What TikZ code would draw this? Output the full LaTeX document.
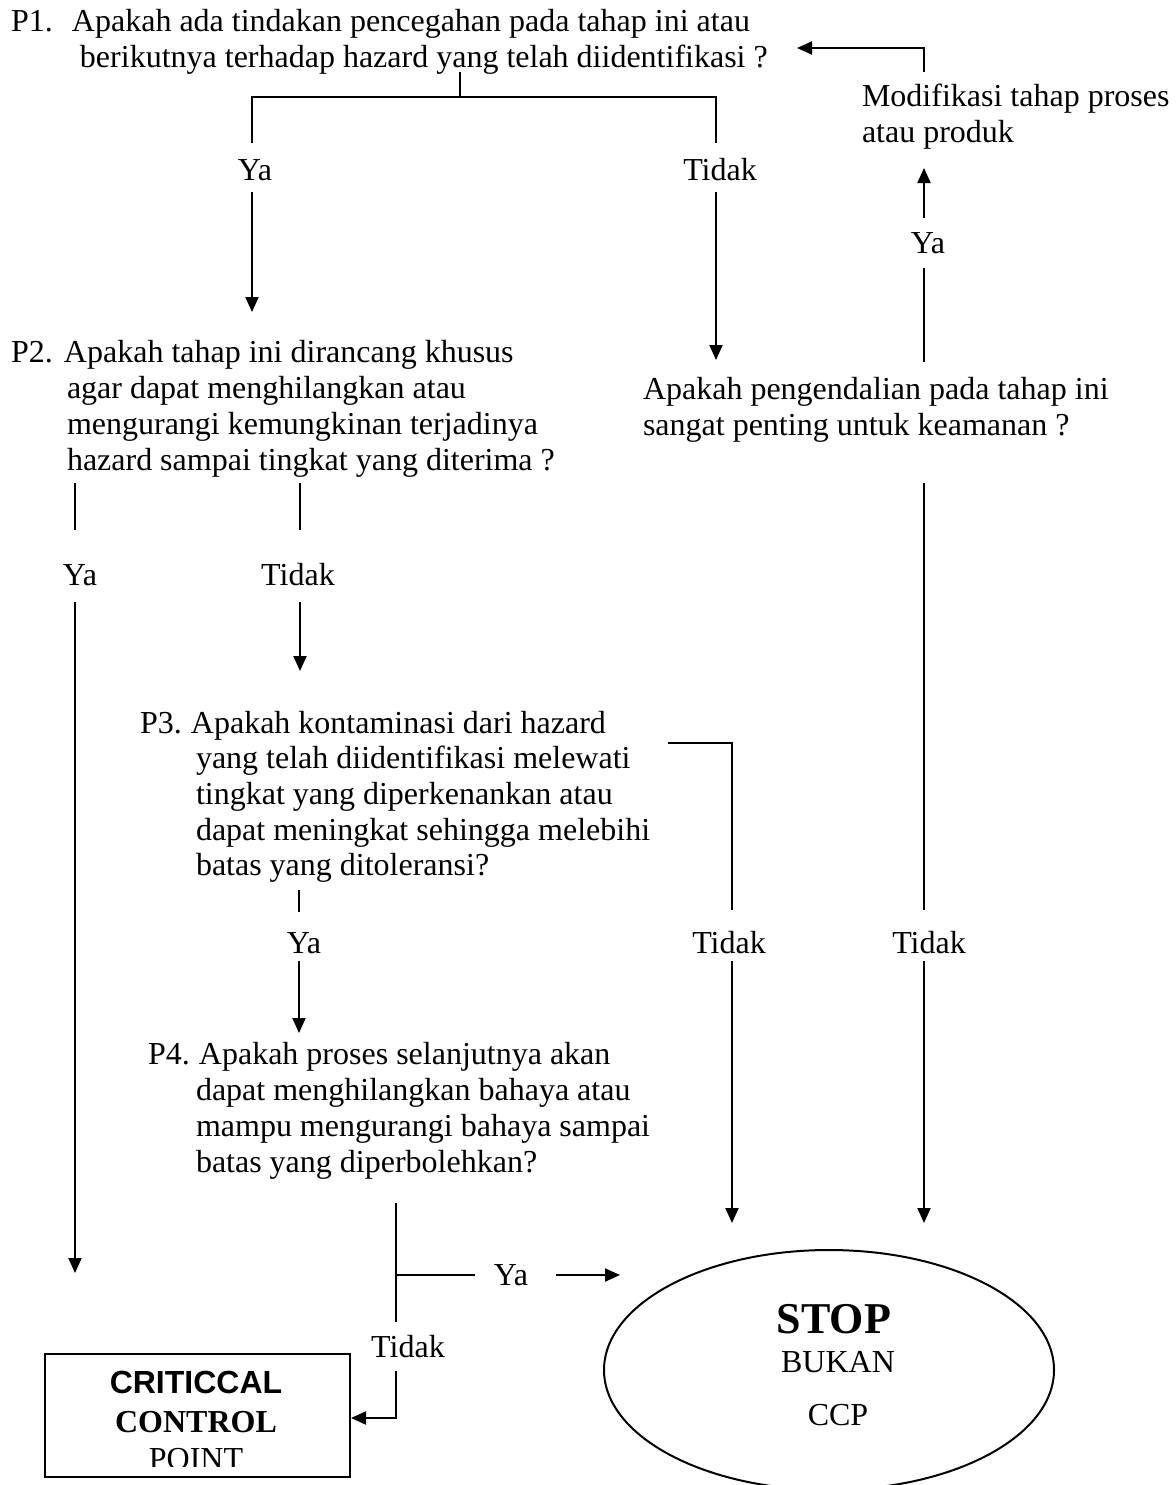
\documentclass[tikz,border=0pt]{standalone}
\usepackage{fontspec}
\setmainfont{Liberation Serif}
\newfontfamily\arialfont{Liberation Sans}
\usetikzlibrary{arrows.meta}
\tikzset{
  txt/.style={inner sep=0pt, outer sep=0pt, align=left, anchor=base west, font=\fontsize{32}{35.7}\selectfont},
  lbl/.style={inner sep=0pt, outer sep=0pt, anchor=base, font=\fontsize{32}{35.7}\selectfont},
  ln/.style={line width=2pt},
  arr/.style={line width=2pt, -{Triangle[length=15pt,width=13pt]}},
}
\begin{document}
\begin{tikzpicture}[x=1pt,y=-1pt]
\useasboundingbox (0,0) rectangle (1175,1485);
% question texts (anchor = baseline of last line)
\node[txt] (p1) at (11,67.7) {\makebox[61pt][l]{P1.}Apakah ada tindakan pencegahan pada tahap ini atau\\
  \hspace*{69pt}berikutnya terhadap hazard yang telah diidentifikasi ?};
\node[txt] (mod) at (862,142.7) {Modifikasi tahap proses\\atau produk};
\node[txt] (p2) at (11,470) {\makebox[53pt][l]{P2.}Apakah tahap ini dirancang khusus\\
  \hspace*{56pt}agar dapat menghilangkan atau\\
  \hspace*{56pt}mengurangi kemungkinan terjadinya\\
  \hspace*{56pt}hazard sampai tingkat yang diterima ?};
\node[txt] (q) at (643,435) {Apakah pengendalian pada tahap ini\\sangat penting untuk keamanan ?};
\node[txt] (p3) at (140,875.8) {\makebox[51pt][l]{P3.}Apakah kontaminasi dari hazard\\
  \hspace*{56pt}yang telah diidentifikasi melewati\\
  \hspace*{56pt}tingkat yang diperkenankan atau\\
  \hspace*{56pt}dapat meningkat sehingga melebihi\\
  \hspace*{56pt}batas yang ditoleransi?};
\node[txt] (p4) at (148,1172) {\makebox[51pt][l]{P4.}Apakah proses selanjutnya akan\\
  \hspace*{48pt}dapat menghilangkan bahaya atau\\
  \hspace*{48pt}mampu mengurangi bahaya sampai\\
  \hspace*{48pt}batas yang diperbolehkan?};
% labels
\node[lbl] (ya1) at (255,180) {Ya};
\node[lbl] (td1) at (720,180) {Tidak};
\node[lbl] (yaq) at (928,253) {Ya};
\node[lbl] (ya2) at (80,585) {Ya};
\node[lbl] (td2) at (298,585) {Tidak};
\node[lbl] (ya3) at (304,953) {Ya};
\node[lbl] (td3) at (729,953) {Tidak};
\node[lbl] (tdq) at (929,953) {Tidak};
\node[lbl] (ya4) at (511,1285) {Ya};
\node[lbl] (td4) at (408,1357) {Tidak};
% CCP box
\node[draw, line width=2pt, minimum width=305pt, minimum height=123pt, inner sep=0pt, anchor=north west] (ccp) at (44,1353) {};
\node[inner sep=0pt, anchor=base, font=\arialfont\fontsize{32}{36}\selectfont\bfseries] (ccp1) at (196,1393) {CRITICCAL};
\node[inner sep=0pt, anchor=base, font=\fontsize{32}{36}\selectfont\bfseries] (ccp2) at (196,1432) {CONTROL};
\begin{scope}
\clip (44,1353) rectangle (349,1466);
\node[inner sep=0pt, anchor=base, font=\fontsize{32}{36}\selectfont] (ccp3) at (196,1469) {POINT};
\end{scope}
% STOP ellipse
\draw[line width=2pt] (829,1370) ellipse [x radius=225, y radius=120];
\node[inner sep=0pt, anchor=base, font=\fontsize{44}{44}\selectfont\bfseries] (stop) at (834,1333) {STOP};
\node[inner sep=0pt, anchor=base, font=\fontsize{32}{36}\selectfont] (bukan) at (838,1372) {BUKAN};
\node[inner sep=0pt, anchor=base, font=\fontsize{32}{36}\selectfont] (ccpt) at (838,1425) {CCP};
% coordinates
\coordinate (a0) at (460,72); \coordinate (a1) at (460,97);
\coordinate (b0) at (252,143); \coordinate (b1) at (252,97);
\coordinate (c1) at (716,97); \coordinate (c0) at (716,143);
\coordinate (d0) at (252,192); \coordinate (d1) at (252,312);
\coordinate (e0) at (716,192); \coordinate (e1) at (716,360);
\coordinate (f0) at (924,362); \coordinate (f1) at (924,268);
\coordinate (g0) at (924,218); \coordinate (g1) at (924,168);
\coordinate (h0) at (924,72); \coordinate (h1) at (924,48); \coordinate (h2) at (797,48);
\coordinate (i0) at (75,483); \coordinate (i1) at (75,530);
\coordinate (j0) at (300,483); \coordinate (j1) at (300,530);
\coordinate (k0) at (75,602); \coordinate (k1) at (75,1273);
\coordinate (l0) at (300,602); \coordinate (l1) at (300,671);
\coordinate (m0) at (668,743); \coordinate (m1) at (732,743); \coordinate (m2) at (732,910);
\coordinate (n0) at (732,961); \coordinate (n1) at (732,1223);
\coordinate (o0) at (924,483); \coordinate (o1) at (924,910);
\coordinate (q0) at (924,961); \coordinate (q1) at (924,1223);
\coordinate (r0) at (299,890); \coordinate (r1) at (299,912);
\coordinate (s0) at (299,961); \coordinate (s1) at (299,1033);
\coordinate (t0) at (396,1203); \coordinate (t1) at (396,1322);
\coordinate (u0) at (396,1275); \coordinate (u1) at (475,1275);
\coordinate (v0) at (556,1275); \coordinate (v1) at (620,1275);
\coordinate (w0) at (396,1371); \coordinate (w1) at (396,1418);
% connectors
\draw[ln] (a0) -- (a1);
\draw[ln] (b0) -- (b1) -- (c1) -- (c0);
\draw[arr] (d0) -- (d1);
\draw[arr] (e0) -- (e1);
\draw[ln] (f0) -- (f1);
\draw[arr] (g0) -- (g1);
\draw[arr] (h0) -- (h1) -- (h2);
\draw[ln] (i0) -- (i1);
\draw[ln] (j0) -- (j1);
\draw[arr] (k0) -- (k1);
\draw[arr] (l0) -- (l1);
\draw[ln] (m0) -- (m1) -- (m2);
\draw[arr] (n0) -- (n1);
\draw[ln] (o0) -- (o1);
\draw[arr] (q0) -- (q1);
\draw[ln] (r0) -- (r1);
\draw[arr] (s0) -- (s1);
\draw[ln] (t0) -- (t1);
\draw[ln] (u0) -- (u1);
\draw[arr] (v0) -- (v1);
\draw[arr] (w0) -- (w1) -- (ccp.east |- w1);
\end{tikzpicture}
\end{document}
